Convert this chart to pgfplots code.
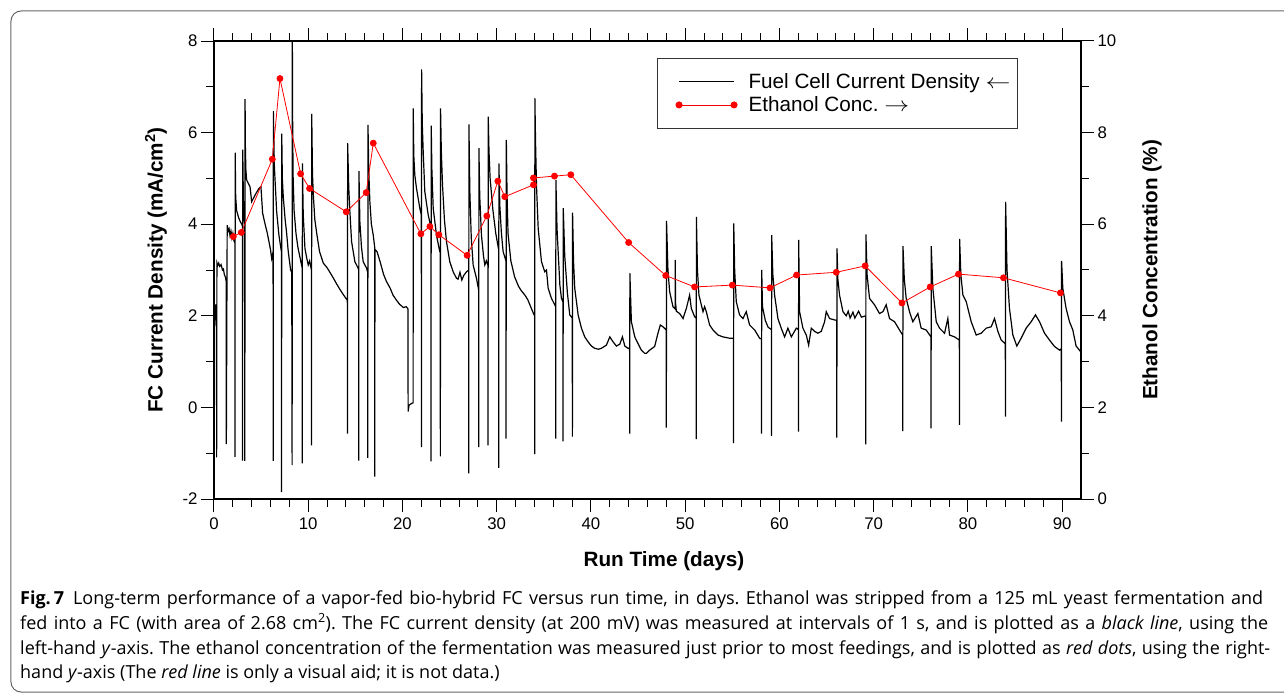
\documentclass[border=0pt]{standalone}
\usepackage{fontspec}
\setmainfont{Liberation Sans}
\newfontfamily\capfont{Open Sans}
\usepackage{graphicx}
\usepackage{pgfplots}
\pgfplotsset{compat=1.18}
\frenchspacing
\begin{document}
\begin{tikzpicture}
\begin{axis}[
  scale only axis, width=867pt, height=458pt,
  xmin=0, xmax=92, ymin=-2, ymax=8,
  xtick={0,10,...,90}, minor x tick num=4,
  ytick={-2,0,...,8}, minor y tick num=1,
  ytick pos=left, xtick pos=both,
  tick align=outside,
  major tick length=13pt, minor tick length=8pt,
  axis line style={line width=1.3pt},
  every tick/.style={black, line width=1pt},
  /pgf/number format/assume math mode=true,
  tick label style={font=\fontsize{16.8}{18}\selectfont},
  xticklabel style={yshift=-2pt},
  xlabel={Run Time (days)},
  xlabel style={at={(axis description cs:0.519,-0.135)}, anchor=center, font=\fontsize{20.7}{24}\selectfont\bfseries},
  ylabel={FC Current Density (mA/cm\textsuperscript{2})},
  ylabel style={at={(axis description cs:-0.067,0.5)}, anchor=center, font=\fontsize{20.7}{24}\selectfont\bfseries},
  legend style={at={(axis description cs:0.511,0.963)}, anchor=north west, draw=black!80, line width=1pt,
    font=\fontsize{20.7}{23}\selectfont, inner xsep=18pt, inner ysep=14.5pt,
    nodes={inner xsep=3pt, inner ysep=0pt, text height=16pt, text depth=2pt},
    column sep=8pt, row sep=5pt},
  legend cell align=left,
]
\addlegendimage{legend image code/.code={\draw[black, line width=1pt] (0pt,0pt) -- (55pt,0pt);}}
\addlegendentry{\makebox[\dimexpr\width-14pt\relax][l]{Fuel Cell Current Density \scalebox{1.2}[1]{$\leftarrow$}}}
\addlegendimage{legend image code/.code={\draw[red, line width=0.8pt] (0pt,0pt) -- (55pt,0pt); \fill[red] (0pt,0pt) circle (3pt); \fill[red] (55pt,0pt) circle (3pt);}}
\addlegendentry{Ethanol Conc. \scalebox{1.2}[1]{$\rightarrow$}}
\addplot[black, line width=1.2pt, mark=none, forget plot] coordinates {
(0.00,1.70) (0.05,2.20) (0.10,1.90) (0.15,2.25) (0.22,1.80) (0.27,1.75) (0.28,-1.09) (0.31,3.16)
(0.40,3.10) (0.50,3.15) (0.60,3.08) (0.75,3.12) (0.90,3.00) (1.00,3.02) (1.10,2.90) (1.20,2.85) (1.30,2.75)
(1.31,-0.80) (1.40,3.98) (1.50,3.85) (1.60,3.90) (1.70,3.75) (1.80,3.85) (1.90,3.70) (2.00,3.80) (2.10,3.65) (2.20,3.60) (2.22,3.70)
(2.23,-1.08) (2.25,5.56) (2.30,4.60) (2.40,4.30) (2.60,4.15) (2.80,4.05) (2.95,4.00) (3.02,3.95)
(3.03,-1.16) (3.05,5.63) (3.12,4.50) (3.20,4.10) (3.26,4.00) (3.27,-1.17) (3.30,6.73) (3.32,5.80) (3.38,5.20)
(3.46,4.97) (3.64,4.89) (3.82,4.82) (4.00,4.49) (4.17,4.56) (4.45,4.67) (4.77,4.78) (4.98,4.82) (5.16,4.24)
(5.40,4.02) (5.66,3.80) (5.87,3.58) (6.00,3.44) (6.12,3.25) (6.22,3.35) (6.27,3.30)
(6.28,-1.17) (6.30,6.47) (6.40,5.30) (6.47,5.00) (6.65,4.27) (6.89,3.76) (7.10,3.47) (7.16,3.40)
(7.17,-1.85) (7.19,5.98) (7.25,5.00) (7.35,4.60) (7.55,4.10) (7.71,3.80) (7.88,3.40) (8.13,3.00) (8.25,2.95)
(8.29,-1.26) (8.31,8.30) (8.35,6.00) (8.40,5.00) (8.50,4.30) (8.70,3.80) (8.90,3.50) (9.10,3.30) (9.30,3.10) (9.35,3.05)
(9.36,-1.22) (9.38,5.33) (9.47,4.20) (9.65,3.47) (9.85,3.25) (10.00,3.11) (10.15,3.20) (10.30,3.04) (10.34,3.05)
(10.35,-0.83) (10.37,6.41) (10.45,5.10) (10.55,4.60) (10.70,4.10) (10.90,3.80) (11.20,3.40) (11.60,3.15) (12.00,3.05)
(12.30,2.95) (12.65,2.83) (13.00,2.70) (13.35,2.58) (13.70,2.47) (14.00,2.38) (14.15,2.35)
(14.16,-0.57) (14.18,5.77) (14.30,4.80) (14.42,4.27) (14.60,3.62) (14.95,3.18) (15.30,3.04) (15.35,3.00)
(15.36,-1.16) (15.38,5.16) (15.48,4.05) (15.65,3.50) (15.83,3.18) (16.19,3.04) (16.31,2.95)
(16.32,-1.10) (16.34,6.17) (16.42,5.20) (16.54,4.49) (16.70,4.00) (16.90,3.76) (17.05,3.50)
(17.06,-1.51) (17.08,3.45) (17.30,3.40) (17.60,3.20) (18.00,2.90) (18.30,2.75) (18.70,2.60) (19.00,2.45)
(19.40,2.33) (19.70,2.25) (20.10,2.18) (20.40,2.20) (20.58,2.15)
(20.60,-0.09) (20.70,0.05) (21.00,0.09) (21.13,0.10)
(21.14,6.53) (21.20,5.50) (21.31,5.07) (21.49,4.78) (21.84,4.35) (22.00,4.20)
(22.01,-0.87) (22.03,7.38) (22.10,6.20) (22.20,5.58) (22.37,4.71) (22.73,4.20) (22.97,3.98) (23.02,3.95)
(23.03,-1.18) (23.05,6.15) (23.12,5.20) (23.26,4.35) (23.61,3.76) (23.96,3.40) (24.01,3.38)
(24.02,-1.07) (24.04,6.53) (24.12,5.60) (24.25,4.85) (24.45,4.10) (24.67,3.62) (25.02,3.18) (25.38,2.96)
(25.73,2.82) (25.90,2.80) (26.10,2.95) (26.30,2.78) (26.50,2.88) (26.79,2.96) (27.02,3.00)
(27.03,-1.44) (27.05,6.18) (27.15,4.70) (27.30,3.70) (27.50,3.11) (27.85,2.82) (28.08,2.57)
(28.09,-0.87) (28.11,5.66) (28.20,4.60) (28.38,3.76) (28.60,3.30) (28.74,3.11) (28.90,3.20) (29.07,3.10)
(29.08,-0.83) (29.10,6.35) (29.18,5.60) (29.30,5.00) (29.60,4.30) (29.90,3.80) (30.20,3.45)
(30.21,-1.32) (30.23,5.33) (30.33,4.40) (30.50,3.80) (30.68,3.40) (30.98,3.20)
(30.99,-0.68) (31.02,5.84) (31.10,4.60) (31.20,3.80) (31.50,3.20) (31.90,2.85) (32.30,2.65) (32.60,2.55)
(33.00,2.45) (33.30,2.35) (33.60,2.20) (33.90,2.05) (34.02,2.00)
(34.03,-1.02) (34.05,6.75) (34.12,5.80) (34.22,4.85) (34.40,3.91) (34.75,3.18) (35.10,2.96) (35.28,3.00)
(35.46,2.60) (35.81,2.38) (36.16,2.24) (36.25,2.20)
(36.26,-0.68) (36.28,4.97) (36.40,3.90) (36.52,3.40) (36.70,2.67) (36.87,2.38) (37.03,2.30)
(37.04,-0.74) (37.06,4.35) (37.22,3.30) (37.50,2.50) (37.75,2.02) (38.02,1.95)
(38.03,-0.64) (38.05,4.25) (38.15,3.20) (38.28,2.60) (38.64,2.02) (38.99,1.73) (39.34,1.54) (39.70,1.43)
(40.05,1.34) (40.40,1.29) (40.80,1.27) (41.11,1.29) (41.64,1.36) (42.00,1.54) (42.35,1.43) (42.70,1.34)
(43.06,1.38) (43.34,1.54) (43.59,1.34) (43.94,1.29) (44.10,1.30)
(44.11,-0.57) (44.13,2.93) (44.29,1.87) (44.65,1.54) (45.00,1.39) (45.35,1.25) (45.71,1.18) (45.88,1.18)
(46.23,1.25) (46.76,1.33) (47.11,1.62) (47.36,1.80) (47.64,1.76) (47.98,1.69)
(48.00,-0.44) (48.02,4.07) (48.17,3.00) (48.35,2.53) (48.70,2.20) (48.94,2.15) (48.95,3.22) (48.97,2.30)
(49.06,2.10) (49.41,2.05) (49.77,1.94) (50.12,2.16) (50.47,2.45) (50.65,2.16) (51.00,1.98) (51.16,1.95)
(51.17,-0.69) (51.19,4.16) (51.30,3.00) (51.46,2.45) (51.89,2.09) (52.06,2.20) (52.24,2.09) (52.59,1.80)
(52.95,1.69) (53.48,1.58) (54.00,1.54) (54.71,1.51) (55.12,1.51)
(55.13,-0.78) (55.15,4.02) (55.25,3.00) (55.42,2.31) (55.77,2.02) (56.13,1.94) (56.48,2.09) (56.83,1.80)
(57.37,1.69) (57.90,1.51) (58.09,1.50)
(58.10,-0.57) (58.12,3.00) (58.20,2.20) (58.50,1.90) (58.80,1.75) (59.15,1.70)
(59.16,-0.62) (59.18,3.76) (59.30,2.90) (59.49,2.45) (59.84,1.94) (60.19,1.73) (60.55,1.54) (60.90,1.73)
(61.26,1.54) (61.79,1.73) (62.01,1.70)
(62.02,-0.53) (62.04,3.66) (62.14,2.09) (62.49,1.73) (62.85,1.58) (63.10,1.36) (63.38,1.73) (63.73,1.66)
(64.08,1.62) (64.44,1.66) (64.79,1.87) (64.97,2.09) (65.32,1.94) (65.85,1.91) (66.08,1.90)
(66.09,-0.66) (66.11,3.47) (66.20,2.80) (66.38,2.45) (66.74,2.09) (67.09,2.00) (67.30,2.10) (67.50,1.95)
(67.80,2.08) (68.00,1.95) (68.40,2.10) (68.70,1.97) (69.15,2.00)
(69.16,-0.81) (69.18,3.78) (69.30,2.90) (69.56,2.38) (70.09,2.24) (70.62,2.05) (70.98,2.09) (71.33,2.24)
(71.68,1.94) (72.22,1.87) (72.74,1.69) (73.08,1.58)
(73.09,-0.52) (73.11,3.52) (73.25,2.80) (73.45,2.38) (73.80,2.09) (74.16,1.87) (74.69,2.05) (75.04,1.73)
(75.57,1.69) (76.08,1.54)
(76.09,-0.46) (76.11,3.52) (76.28,2.60) (76.64,1.87) (76.99,1.73) (77.52,1.62) (77.87,1.94) (78.05,1.58)
(78.58,1.54) (79.09,1.47)
(79.10,-0.38) (79.12,3.68) (79.25,2.90) (79.47,2.45) (79.82,2.31) (80.35,1.87) (80.88,1.58) (81.41,1.62)
(81.94,1.73) (82.47,1.76) (82.82,1.94) (83.18,1.66) (83.53,1.47) (83.97,1.39)
(83.98,-0.20) (84.00,4.49) (84.15,3.00) (84.41,2.16) (84.77,1.58) (85.19,1.34) (85.65,1.51) (86.18,1.73)
(86.71,1.87) (87.17,2.02) (87.60,1.87) (88.13,1.62) (88.66,1.47) (89.19,1.33) (89.72,1.25) (89.91,1.28)
(89.92,-0.31) (89.94,3.20) (90.07,2.60) (90.42,2.16) (90.78,1.87) (91.13,1.69) (91.48,1.34) (91.91,1.23) (92.00,1.30)
};
\end{axis}
\begin{axis}[
  scale only axis, width=867pt, height=458pt,
  xmin=0, xmax=92, ymin=0, ymax=10,
  axis x line=none, axis y line*=right,
  ytick={0,2,...,10}, minor y tick num=1,
  tick align=outside,
  major tick length=13pt, minor tick length=8pt,
  axis line style={line width=1.3pt, -},
  every tick/.style={black, line width=1pt},
  /pgf/number format/assume math mode=true,
  tick label style={font=\fontsize{16.8}{18}\selectfont},
  ylabel={Ethanol Concentration (\%)},
  ylabel style={at={(axis description cs:1.082,0.5)}, anchor=center, font=\fontsize{20.7}{24}\selectfont\bfseries},
]
\addplot[red, line width=0.8pt, mark=*, mark size=3pt, mark options={fill=red, draw=red}] coordinates {
(2.05,5.73) (2.90,5.82) (6.19,7.42) (7.00,9.18) (9.19,7.10) (10.14,6.78) (14.03,6.27) (16.15,6.69)
(16.90,7.77) (21.95,5.79) (22.91,5.95) (23.86,5.77) (26.86,5.32) (28.95,6.18) (30.12,6.94) (30.86,6.60)
(33.90,6.86) (33.90,7.01) (36.13,7.05) (37.86,7.08) (44.00,5.60) (47.93,4.88) (51.00,4.63) (55.00,4.67)
(59.00,4.61) (61.82,4.89) (66.03,4.95) (69.10,5.09) (73.00,4.28) (76.00,4.63) (79.00,4.91) (83.77,4.83)
(89.82,4.50)
};
\end{axis}
\draw[draw=black!60, line width=1pt, rounded corners=10pt] (-203pt,-193pt) rectangle (1120pt,488pt);
\begin{scope}[every node/.style={anchor=base west, inner sep=0pt, font=\capfont\fontsize{18}{21}\selectfont}]
\node at (-194pt,-105pt) {\makebox[1243pt][s]{\mbox{\textbf{Fig.\,7}}\hspace{9pt}Long-term performance of a vapor-fed bio-hybrid FC versus run time, in days. Ethanol was stripped from a 125 mL yeast fermentation and}};
\node at (-194pt,-130pt) {\makebox[1248pt][s]{fed into a FC (with area of 2.68 cm\textsuperscript{2}). The FC current density (at 200 mV) was measured at intervals of 1 s, and is plotted as a \textit{black line}, using the}};
\node at (-194pt,-155pt) {\makebox[1250pt][s]{left-hand \textit{y}-axis. The ethanol concentration of the fermentation was measured just prior to most feedings, and is plotted as \textit{red dots}, using the right-}};
\node at (-194pt,-179pt) {hand \textit{y}-axis (The \textit{red line} is only a visual aid; it is not data.)};
\end{scope}
\pgfresetboundingbox
\path[use as bounding box] (-214pt,-194pt) rectangle (1070pt,499pt);
\end{tikzpicture}
\end{document}
